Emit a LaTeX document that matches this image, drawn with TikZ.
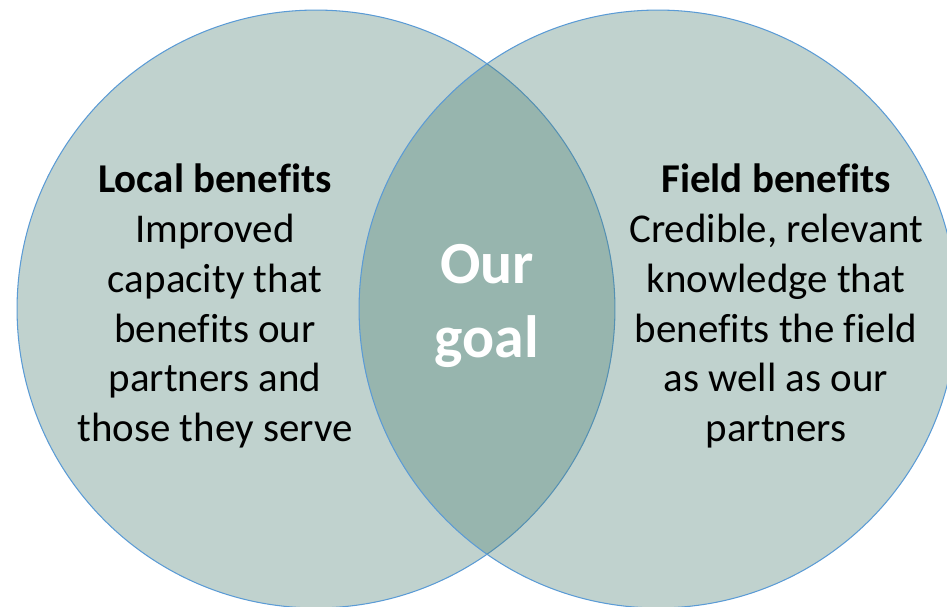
\documentclass[tikz,border=0pt]{standalone}
\usepackage{fontspec}
\setmainfont{Carlito}[Ligatures=NoCommon]
\usetikzlibrary{positioning}

\definecolor{vennfill}{RGB}{75,126,115}
\definecolor{vennline}{RGB}{91,155,213}

\tikzset{
  venn/.style={circle,minimum size=11.96cm,inner sep=0pt,
    fill=vennfill,fill opacity=0.35,draw=vennline,line width=0.6pt},
  txt/.style={align=center,font=\fontsize{23.3}{28.4}\selectfont,inner sep=0pt},
  goal/.style={align=center,text=white,font=\bfseries\fontsize{34}{42.5}\selectfont,inner sep=0pt}
}

\begin{document}
\begin{tikzpicture}[x=0.02cm,y=-0.02cm]
\useasboundingbox (0,0) rectangle (947,606);
% the two sets
\node[venn] (left) at (316,309) {};
\node[venn] (right) at (658,309) {};
% their texts
\node[txt] (localtxt) at (215,306) {\textbf{Local benefits}\\Improved\\capacity that\\benefits our\\partners and\\those they serve};
\node[txt] (fieldtxt) at (776,306) {\textbf{Field benefits}\\Credible, relevant\\knowledge that\\benefits the field\\as well as our\\partners};
% overlap
\node[goal] (ourgoal) at (487,306) {Our\\goal};
\end{tikzpicture}
\end{document}
